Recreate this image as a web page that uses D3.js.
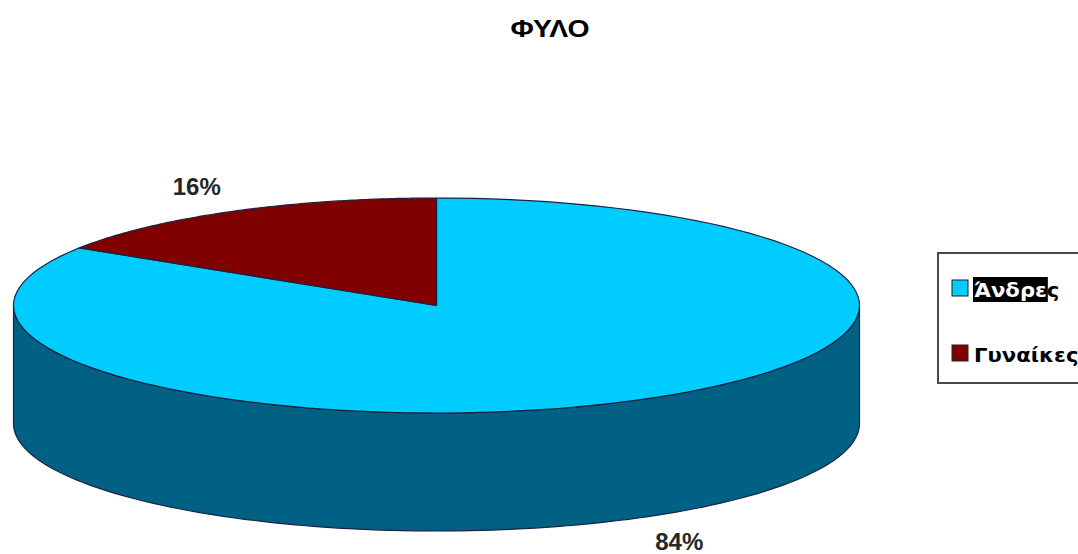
<!DOCTYPE html>
<html>
<head>
<meta charset="utf-8">
<script src="https://cdn.jsdelivr.net/npm/d3@7"></script>
<style>
  html, body { margin: 0; padding: 0; background: #fff; }
  svg { display: block; }
</style>
</head>
<body>
<svg id="chart" width="1078" height="554"></svg>
<script>
// Gender breakdown (percent)
const categories = ["Άνδρες", "Γυναίκες"];
const values = [84, 16];
const pctLabels = ["84%", "16%"];
const chartTitle = "ΦΥΛΟ";

const topColors = ["#00CCFF", "#800000"];
const sideColors = ["#006185", "#4d0000"];
const edge = "#1b2340";

const W = 1078, H = 554;
const cx = 436.5, cy = 305.5, rx = 423, ry = 107.5, depth = 118;

const svg = d3.select("#chart");

// Title (slightly widened lettering)
svg.append("text")
  .attr("transform", "translate(550,37) scale(1.18,1)")
  .attr("text-anchor", "middle")
  .attr("font-family", "Liberation Sans, Arial, sans-serif")
  .attr("font-weight", "bold")
  .attr("font-size", 24)
  .attr("fill", "#000")
  .text(chartTitle);

// Slice angles: first slice starts at 12 o'clock, clockwise
const pie = d3.pie().sort(null).startAngle(0).endAngle(2 * Math.PI);
const arcs = pie(values);

const px = a => cx + rx * Math.sin(a);
const py = (a, dz = 0) => cy - ry * Math.cos(a) + dz;

// Elliptical arc segment along the rim, sampled finely
function rim(a0, a1, dz, n = 120) {
  const pts = [];
  for (let i = 0; i <= n; i++) {
    const a = a0 + (a1 - a0) * i / n;
    pts.push([px(a), py(a, dz)]);
  }
  return pts;
}

const line = d3.line();

// Side walls: only the front half (PI/2 .. 3PI/2) is visible
const sideG = svg.append("g");
arcs.forEach((d, i) => {
  const a0 = Math.max(d.startAngle, Math.PI / 2);
  const a1 = Math.min(d.endAngle, 3 * Math.PI / 2);
  if (a1 <= a0) return;
  const pts = rim(a0, a1, 0).concat(rim(a1, a0, depth));
  sideG.append("path")
    .attr("d", line(pts) + "Z")
    .attr("fill", sideColors[i])
    .attr("stroke", edge)
    .attr("stroke-width", 1.2)
    .attr("stroke-linejoin", "round");
});

// Top faces
const topG = svg.append("g");
arcs.forEach((d, i) => {
  const pts = [[cx, cy]].concat(rim(d.startAngle, d.endAngle, 0));
  topG.append("path")
    .attr("d", line(pts) + "Z")
    .attr("fill", topColors[i])
    .attr("stroke", edge)
    .attr("stroke-width", 1.2)
    .attr("stroke-linejoin", "round");
});

// Percentage labels placed outside each slice
const labelPos = [
  { dx: 39, dy: 32, dz: depth },   // front slice: below the wall
  { dx: -36, dy: -16, dz: 0 }      // back slice: above the rim
];
arcs.forEach((d, i) => {
  const a = (d.startAngle + d.endAngle) / 2;
  const p = labelPos[i];
  const x = px(a) + p.dx;
  const y = py(a, p.dz) + p.dy;
  svg.append("text")
    .attr("x", x).attr("y", y)
    .attr("text-anchor", "middle")
    .attr("font-family", "Liberation Sans, Arial, sans-serif")
    .attr("font-weight", "bold")
    .attr("font-size", 24)
    .attr("fill", "#262626")
    .text(pctLabels[i]);
});

// Legend
const lg = svg.append("g");
lg.append("rect")
  .attr("x", 938).attr("y", 253)
  .attr("width", 200).attr("height", 130)
  .attr("fill", "#fff")
  .attr("stroke", "#4a4a4a")
  .attr("stroke-width", 2);

const legendY = [297, 362];
const sx = 1.06;
categories.forEach((c, i) => {
  lg.append("rect")
    .attr("x", 952).attr("y", legendY[i] - 17)
    .attr("width", 16).attr("height", 16)
    .attr("fill", topColors[i])
    .attr("stroke", "#222")
    .attr("stroke-width", 1);
  const t = lg.append("text")
    .attr("transform", `translate(974,${legendY[i]}) scale(${sx},1)`)
    .attr("font-family", "DejaVu Sans, Verdana, sans-serif")
    .attr("font-weight", "bold")
    .attr("font-size", 20)
    .attr("fill", "#000");
  if (i === 0) {
    // first entry carries a selection highlight over its leading letters
    const head = c.slice(0, c.length - 1), tail = c.slice(c.length - 1);
    const hl = lg.insert("rect", "text");
    t.append("tspan").attr("fill", "#fff").text(head);
    t.append("tspan").text(tail);
    const w = t.node().getSubStringLength(0, head.length) * sx;
    hl.attr("x", 973).attr("y", legendY[i] - 20)
      .attr("width", w + 2).attr("height", 25)
      .attr("fill", "#000");
  } else {
    t.text(c);
  }
});
</script>
</body>
</html>
